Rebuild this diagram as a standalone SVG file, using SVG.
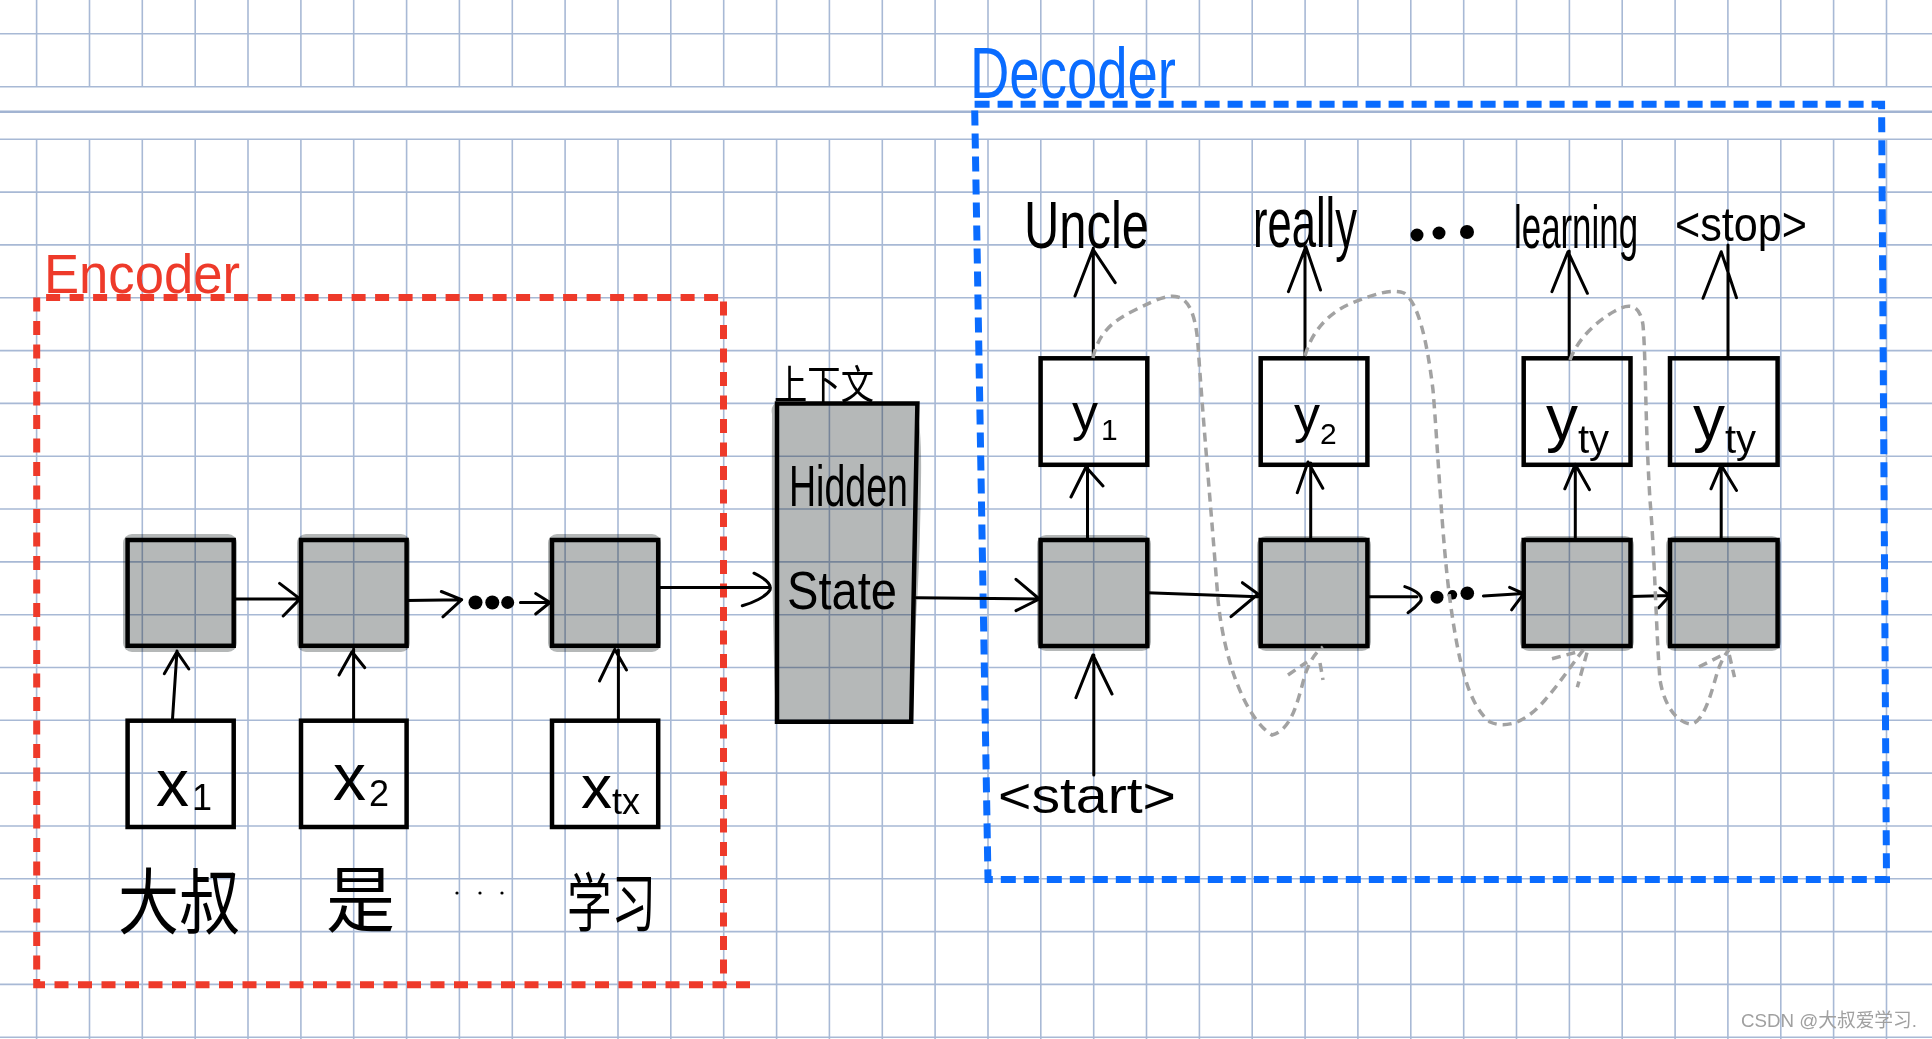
<svg xmlns="http://www.w3.org/2000/svg" width="1932" height="1039" viewBox="0 0 1932 1039">
<style>
.grid{fill:none;stroke:#A8B9D5;stroke-width:1.6}
.box{fill:none;stroke:#000;stroke-width:4.5}
.cellg{mix-blend-mode:multiply}
.cell{fill:#B5B8B8;stroke:#000;stroke-width:4.5;stroke-linejoin:miter}
.halo{fill:#B5B8B8;stroke:none}
.ln{fill:none;stroke:#000;stroke-width:3;stroke-linecap:round;stroke-linejoin:round}
.dot{fill:#000}
.att{fill:none;stroke:#A2A2A2;stroke-width:3.5;stroke-dasharray:9 6;stroke-linecap:butt}
.hw{font-family:"Liberation Sans","Noto Sans",sans-serif;fill:#000}
.cjk{font-family:"Noto Sans CJK SC","Noto Sans CJK JP",sans-serif;fill:#000}
.enc{fill:none;stroke:#EE3A2A;stroke-width:7;stroke-dasharray:14 9.5}
.dec{fill:none;stroke:#0A6CFF;stroke-width:7;stroke-dasharray:15 8}
</style>
<rect width="1932" height="1039" fill="#fff"/>
<g id="grid">
<path class="grid" d="M36.6 0V86.7M89.5 0V86.7M142.3 0V86.7M195.2 0V86.7M248 0V86.7M300.9 0V86.7M353.7 0V86.7M406.6 0V86.7M459.4 0V86.7M512.3 0V86.7M565.1 0V86.7M618 0V86.7M670.8 0V86.7M723.7 0V86.7M776.6 0V86.7M829.4 0V86.7M882.3 0V86.7M935.1 0V86.7M988 0V86.7M1040.8 0V86.7M1093.7 0V86.7M1146.5 0V86.7M1199.4 0V86.7M1252.2 0V86.7M1305.1 0V86.7M1357.9 0V86.7M1410.8 0V86.7M1463.7 0V86.7M1516.5 0V86.7M1569.4 0V86.7M1622.2 0V86.7M1675.1 0V86.7M1727.9 0V86.7M1780.8 0V86.7M1833.6 0V86.7M1886.5 0V86.7"/>
<path class="grid" d="M36.6 139.3V1039M89.5 139.3V1039M142.3 139.3V1039M195.2 139.3V1039M248 139.3V1039M300.9 139.3V1039M353.7 139.3V1039M406.6 139.3V1039M459.4 139.3V1039M512.3 139.3V1039M565.1 139.3V1039M618 139.3V1039M670.8 139.3V1039M723.7 139.3V1039M776.6 139.3V1039M829.4 139.3V1039M882.3 139.3V1039M935.1 139.3V1039M988 139.3V1039M1040.8 139.3V1039M1093.7 139.3V1039M1146.5 139.3V1039M1199.4 139.3V1039M1252.2 139.3V1039M1305.1 139.3V1039M1357.9 139.3V1039M1410.8 139.3V1039M1463.7 139.3V1039M1516.5 139.3V1039M1569.4 139.3V1039M1622.2 139.3V1039M1675.1 139.3V1039M1727.9 139.3V1039M1780.8 139.3V1039M1833.6 139.3V1039M1886.5 139.3V1039"/>
<path class="grid" d="M0 33.7H1932M0 86.7H1932M0 139.3H1932M0 192.1H1932M0 244.9H1932M0 297.8H1932M0 350.6H1932M0 403.4H1932M0 456.2H1932M0 509H1932M0 561.9H1932M0 614.7H1932M0 667.5H1932M0 720.3H1932M0 773.1H1932M0 826H1932M0 878.8H1932M0 931.6H1932M0 984.4H1932M0 1037.2H1932"/>
<path class="grid" style="stroke-width:2.4;stroke:#A2B4D2" d="M0 111.7H1932"/>
</g>

<g id="encoder">
<path class="enc" d="M750 984.8H36.7V297.5H723.5V984.8"/>
<text class="hw" x="44" y="293" font-size="56" textLength="196" lengthAdjust="spacingAndGlyphs" style="fill:#EE3A2A">Encoder</text>
</g>

<g id="decoder">
<path class="dec" d="M974.6 104.3H1881.6L1886.5 879.6H988Z"/>
<text class="hw" x="970" y="98" font-size="72" textLength="206" lengthAdjust="spacingAndGlyphs" style="fill:#0A6CFF">Decoder</text>
</g>

<g id="enc-cell-1" class="cellg"><rect class="halo" x="123" y="534" width="114" height="118" rx="9"/><rect class="cell" x="127.6" y="540" width="106.1" height="105.8"/></g>
<g id="enc-cell-2" class="cellg"><rect class="halo" x="297" y="534" width="113" height="118" rx="9"/><rect class="cell" x="301" y="540" width="105.6" height="105.8"/></g>
<g id="enc-cell-3" class="cellg"><rect class="halo" x="548" y="534" width="113" height="118" rx="9"/><rect class="cell" x="552" y="540" width="106.2" height="105.8"/></g>

<g id="enc-in-1"><rect class="box" x="127.6" y="720.7" width="106.1" height="106.3"/><text class="hw" x="156" y="806" font-size="66">x<tspan font-size="36" dx="3" dy="4">1</tspan></text></g>
<g id="enc-in-2"><rect class="box" x="301" y="720.7" width="105.6" height="106.3"/><text class="hw" x="333" y="800" font-size="66">x<tspan font-size="36" dx="3" dy="6">2</tspan></text></g>
<g id="enc-in-3"><rect class="box" x="552" y="720.7" width="106.2" height="106.3"/><text class="hw" x="581" y="808" font-size="62">x<tspan font-size="36" dy="6">tx</tspan></text></g>

<g id="word-1"><text class="cjk" x="118" y="928" font-size="72" textLength="122" lengthAdjust="spacingAndGlyphs">大叔</text></g>
<g id="word-2"><text class="cjk" x="326" y="926" font-size="72" textLength="69" lengthAdjust="spacingAndGlyphs">是</text></g>
<g id="word-dots"><circle class="dot" cx="457" cy="893" r="1.6"/><circle class="dot" cx="480" cy="893" r="1.6"/><circle class="dot" cx="502" cy="893" r="1.6"/></g>
<g id="word-3"><text class="cjk" x="567" y="926" font-size="64" textLength="89" lengthAdjust="spacingAndGlyphs">学习</text></g>

<g id="hidden-state" class="cellg">
<path class="halo" d="M772 414Q770 405 778 402H916Q922 430 921 480Q920 560 916 620L912 722H776Q771 600 772 414Z"/>
<path class="cell" d="M777 403.5H917.4L911.2 721.7H777Z"/>
</g>
<g id="hidden-state-text">
<text class="cjk" x="774" y="399" font-size="40" textLength="100" lengthAdjust="spacingAndGlyphs">上下文</text>
<text class="hw" x="789" y="506" font-size="58" textLength="119" lengthAdjust="spacingAndGlyphs">Hidden</text>
<text class="hw" x="787" y="609" font-size="54" textLength="110" lengthAdjust="spacingAndGlyphs">State</text>
</g>

<g id="dec-cell-1" class="cellg"><rect class="halo" x="1037" y="535" width="114" height="116" rx="9"/><rect class="cell" x="1040.6" y="540" width="106.7" height="106"/></g>
<g id="dec-cell-2" class="cellg"><rect class="halo" x="1257" y="536" width="114" height="115" rx="9"/><rect class="cell" x="1260.7" y="540" width="106.7" height="106"/></g>
<g id="dec-cell-3" class="cellg"><rect class="halo" x="1520" y="536" width="114" height="115" rx="9"/><rect class="cell" x="1523.7" y="540" width="106.8" height="106"/></g>
<g id="dec-cell-4" class="cellg"><rect class="halo" x="1666" y="536" width="115" height="115" rx="9"/><rect class="cell" x="1670" y="540" width="107.6" height="106"/></g>

<g id="dec-out-1"><rect class="box" x="1040.6" y="358.3" width="106.7" height="106.5"/><text class="hw" x="1072" y="430" font-size="52">y<tspan font-size="30" dx="3" dy="10">1</tspan></text></g>
<g id="dec-out-2"><rect class="box" x="1260.7" y="358.3" width="106.7" height="106.5"/><text class="hw" x="1294" y="432" font-size="52">y<tspan font-size="30" dy="12">2</tspan></text></g>
<g id="dec-out-3"><rect class="box" x="1523.7" y="358.3" width="106.8" height="106.5"/><text class="hw" x="1546" y="440" font-size="64">y<tspan font-size="40" dy="13">ty</tspan></text></g>
<g id="dec-out-4"><rect class="box" x="1670" y="358.3" width="107.6" height="106.5"/><text class="hw" x="1693" y="440" font-size="64">y<tspan font-size="40" dy="13">ty</tspan></text></g>

<g id="label-uncle"><text class="hw" transform="translate(1024 248) scale(0.741 1)" font-size="66">Uncle</text></g>
<g id="label-really"><text class="hw" transform="translate(1253 247) scale(0.622 1)" font-size="70">really</text></g>
<g id="label-dots"><circle class="dot" cx="1417" cy="235" r="6.5"/><circle class="dot" cx="1439" cy="233" r="6.5"/><circle class="dot" cx="1467" cy="232" r="7"/></g>
<g id="label-learning"><text class="hw" transform="translate(1514 248) scale(0.5624 1)" font-size="62">learning</text></g>
<g id="label-stop"><text class="hw" transform="translate(1675 241) scale(0.9 1)" font-size="48">&lt;stop&gt;</text></g>
<g id="label-start"><text class="hw" x="998" y="813" font-size="50" textLength="178" lengthAdjust="spacingAndGlyphs">&lt;start&gt;</text></g>

<g id="connectors">
<path class="ln" d="M172.4 720.7L177 651M164.3 673.8L177 651.8L188.8 669"/>
<path class="ln" d="M353.6 720.7V649M339 675L352 651.8L364.8 667.7"/>
<path class="ln" d="M618.4 720.7V650M599.5 681L614.8 649.4L626.5 670"/>
<path class="ln" d="M233.7 598.9H300M279.6 583.4L300 598.9L283.2 616"/>
<path class="ln" d="M406.6 600.5L461.7 599.7M441.3 591.5L461.7 599.7L442.9 616.8"/>
<circle class="dot" cx="475.5" cy="602.5" r="7"/><circle class="dot" cx="492.3" cy="602.5" r="7"/><circle class="dot" cx="507.7" cy="602.5" r="6.5"/>
<path class="ln" d="M520.4 602.5H550M535.7 593.6L550 602.5L535.7 614"/>
<path class="ln" d="M658.2 587.4H770.4M754 573.2C764 578 772 584 770 590C766 597 752 603 742.3 605.8"/>
<path class="ln" d="M916.5 597.7L1039 599M1016 579.3L1039.3 599L1016 610.7"/>
<path class="ln" d="M1147.3 592.7L1258 596.7M1242.4 582.7L1258 594L1231 616.7"/>
<path class="ln" d="M1367.7 596.8H1416.9M1404.8 586.6C1418 591 1424 597 1420 602C1416 607 1412 610 1408 612.7"/>
<circle class="dot" cx="1437" cy="597.2" r="6.5"/><circle class="dot" cx="1452.4" cy="594.8" r="4.8"/><circle class="dot" cx="1467.3" cy="593.2" r="6.8"/>
<path class="ln" d="M1483.4 596L1523.7 593.6M1509.6 587.4L1523.7 593.6L1511.6 609.9"/>
<path class="ln" d="M1630.5 596.4L1670 595.6M1660 588L1670 595.6L1658.7 607.8"/>
<path class="ln" d="M1087.5 540V467M1071 497L1086 467L1103 486"/>
<path class="ln" d="M1310.7 540V463M1297.3 492.7L1308 462L1322.8 488.3"/>
<path class="ln" d="M1575.3 540V464.4M1564.8 488.8L1575.3 464.4L1589.4 489.6"/>
<path class="ln" d="M1721.2 540V465.2M1711 488.8L1721.2 465.2L1736.5 490.5"/>
<path class="ln" d="M1093.3 358.3V248M1075 296L1093 249.3L1115.2 282.7"/>
<path class="ln" d="M1305 358.3V247M1288.4 291.7L1305.8 246.7L1320.5 290"/>
<path class="ln" d="M1569.2 358.3V251M1551.9 291.7L1568 251.7L1587.4 293.3"/>
<path class="ln" d="M1728 358.3V245M1703 298.3L1721.2 251.7L1736.5 297.7"/>
<path class="ln" d="M1093.8 775V655M1075.9 697.7L1092.9 655L1112 694"/>
<path class="att" d="M1093 358C1098 335 1110 322 1135 310C1155 300 1168 294 1178 297C1190 300 1196 318 1198 345C1203 420 1212 520 1218 600C1224 660 1245 718 1272 735C1292 730 1298 700 1305 675C1310 660 1316 652 1323 647M1288 675L1307 662M1320 663L1323 680"/>
<path class="att" d="M1305 356C1312 330 1330 312 1352 303C1372 295 1392 288 1404 293C1418 302 1427 340 1433 390C1438 450 1442 540 1450 600C1458 660 1468 705 1490 722C1508 730 1528 720 1545 700C1560 683 1575 660 1584 649M1552 658.8L1582 650.6M1587 652.6L1577.3 687.3"/>
<path class="att" d="M1570 360C1578 338 1598 320 1615 311C1630 302 1640 305 1643 325C1646 360 1645 420 1650 500C1655 560 1656 630 1660 680C1665 710 1680 724 1692 724C1705 720 1712 690 1718 670C1722 660 1725 654 1729 650M1699 666.9L1727.2 652.6M1729.3 655L1734.5 677.1"/>
</g>

<text x="1741" y="1027" font-size="19" textLength="176" lengthAdjust="spacingAndGlyphs" style="font-family:'Liberation Sans','Noto Sans CJK SC',sans-serif;fill:#A0A0A0">CSDN @大叔爱学习.</text>
</svg>
